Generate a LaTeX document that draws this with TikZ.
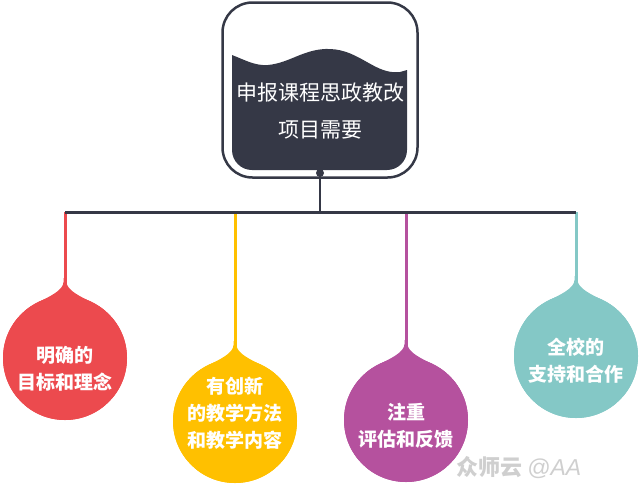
\documentclass[tikz,border=0pt]{standalone}
\usepackage{fontspec}
\setmainfont{Noto Sans CJK SC}
\newfontfamily\latinsans{Liberation Sans}
\definecolor{dk}{HTML}{353846}
\definecolor{cred}{HTML}{EC4A4E}
\definecolor{cyel}{HTML}{FFC000}
\definecolor{cpur}{HTML}{B5519E}
\definecolor{ctea}{HTML}{84C8C6}
\definecolor{wmgray}{HTML}{CFCFCF}
\tikzset{
  ball/.style={circle, fill=#1, minimum size=124pt, inner sep=0pt},
  balltext/.style={text=white, font=\bfseries\fontsize{19}{27}\selectfont, align=center, inner sep=0pt},
  stem/.style={draw=#1, line width=3pt},
}
\newcommand{\neck}[3]{% cx, cy, colour
  \fill[#3] (#1-1.5,#2-80) -- (#1-1.5,#2-76) .. controls (#1-1.5,#2-68) and (#1-15.3,#2-61.3) .. (#1-26.2,#2-56.2)
    -- (#1,#2) -- (#1+26.2,#2-56.2) .. controls (#1+15.3,#2-61.3) and (#1+1.5,#2-68) .. (#1+1.5,#2-76) -- (#1+1.5,#2-80) -- cycle;}
\begin{document}
\begin{tikzpicture}[x=1pt,y=-1pt]
\useasboundingbox (0,0) rectangle (640,488);
% top box
\node[draw=dk, line width=2.5pt, rounded corners=30pt, minimum width=195pt, minimum height=175pt, inner sep=0pt] (top) at (320,90) {};
\fill[dk] (232,55) .. controls (245,60) and (255,66) .. (268,65) .. controls (290,63) and (305,48) .. (330,49)
  .. controls (360,50) and (375,75) .. (400,72) -- (407,70)
  [rounded corners=20pt] -- (407,170) -- (232,170) [sharp corners] -- cycle;
\node[text=white, font=\fontsize{21}{37}\selectfont, align=center, inner sep=0pt] (title) at (320,111) {申报课程思政教改\\项目需要};
\coordinate (dot) at (320,173);
\coordinate (hub) at (320,212);
\coordinate (b1) at (65,212);
\coordinate (b2) at (235,212);
\coordinate (b3) at (406,212);
\coordinate (b4) at (576,212);
% balls
\node[ball=cred] (n1) at (65,358) {};
\node[ball=cyel] (n2) at (235,421) {};
\node[ball=cpur] (n3) at (406,420) {};
\node[ball=ctea] (n4) at (576,356) {};
\draw[stem=cred] (b1) -- (n1.center);
\draw[stem=cyel] (b2) -- (n2.center);
\draw[stem=cpur] (b3) -- (n3.center);
\draw[stem=ctea] (b4) -- (n4.center);
\neck{65}{358}{cred}
\neck{235}{421}{cyel}
\neck{406}{420}{cpur}
\neck{576}{356}{ctea}
\node[ball=cred] at (n1) {};
\node[ball=cyel] at (n2) {};
\node[ball=cpur] at (n3) {};
\node[ball=ctea] at (n4) {};
\node[balltext] (t1) at (65,369) {明确的\\目标和理念};
\node[balltext] (t2) at (235,413) {有创新\\的教学方法\\和教学内容};
\node[balltext] (t3) at (406,426) {注重\\评估和反馈};
\node[balltext] (t4) at (576,361) {全校的\\支持和合作};
% bar
\draw[dk, line width=3pt] (b1) -- (b4);
\draw[dk, line width=2.5pt] (dot) -- (hub);
\fill[dk] (dot) circle (4);
% watermark
\node[text=wmgray, font=\bfseries\fontsize{22}{24}\selectfont, inner sep=0pt, anchor=west] (wm) at (456,468) {众师云 {\latinsans\mdseries\itshape\fontsize{23}{24}\selectfont @AA}};
\end{tikzpicture}
\end{document}
